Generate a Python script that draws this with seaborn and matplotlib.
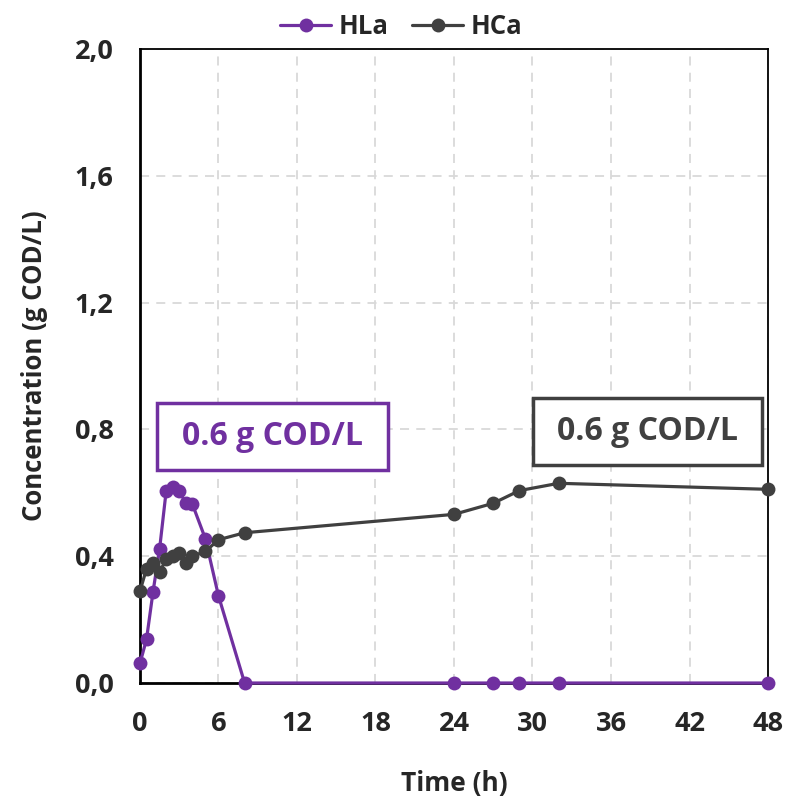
import numpy as np
import pandas as pd
import seaborn as sns
import matplotlib.pyplot as plt
from matplotlib.patches import Rectangle
from matplotlib.ticker import FuncFormatter

# data
time_hla = [0, 0.5, 1, 1.5, 2, 2.5, 3, 3.5, 4, 5, 6, 8, 24, 27, 29, 32, 48]
hla = [0.062, 0.138, 0.288, 0.423, 0.605, 0.618, 0.605, 0.568, 0.565, 0.455, 0.275, 0.0,
       0.0, 0.0, 0.0, 0.0, 0.0]
time_hca = [0, 0.5, 1, 1.5, 2, 2.5, 3, 3.5, 4, 5, 6, 8, 24, 27, 29, 32, 48]
hca = [0.29, 0.36, 0.38, 0.35, 0.39, 0.40, 0.41, 0.38, 0.40, 0.415, 0.452, 0.474,
       0.532, 0.567, 0.607, 0.630, 0.611]
series_names = ['HLa', 'HCa']
colors = {'HLa': '#7030A0', 'HCa': '#404040'}
box_text = '0.6 g COD/L'

df = pd.concat([
    pd.DataFrame({'time': time_hla, 'conc': hla, 'series': 'HLa'}),
    pd.DataFrame({'time': time_hca, 'conc': hca, 'series': 'HCa'}),
])

sns.set_style('white')
plt.rcParams['font.family'] = ['Open Sans', 'DejaVu Sans']
plt.rcParams['font.weight'] = 'bold'

fig = plt.figure(figsize=(7.89, 7.98), dpi=100)
ax = fig.add_axes([0.1774, 0.1441, 0.796, 0.7945])

for name in series_names:
    sns.lineplot(data=df[df.series == name], x='time', y='conc', ax=ax,
                 color=colors[name], marker='o', markersize=10, linewidth=2.3,
                 markeredgewidth=0, label=name, zorder=3, clip_on=False)

ax.set_xlim(0, 48)
ax.set_ylim(0, 2.0)
ax.set_xticks(np.arange(0, 49, 6))
ax.set_yticks(np.arange(0, 2.01, 0.4))
ax.yaxis.set_major_formatter(FuncFormatter(lambda v, p: f'{v:.1f}'.replace('.', ',')))
ax.tick_params(length=0, labelsize=19.5)
ax.tick_params(axis='x', pad=20)
ax.tick_params(axis='y', pad=19)
for lab in ax.get_xticklabels() + ax.get_yticklabels():
    lab.set_fontweight('bold')

ax.grid(True, color='#d9d9d9', linestyle=(0, (5, 4)), linewidth=1.3)
for side in ['top', 'right']:
    ax.spines[side].set_color('black')
    ax.spines[side].set_linewidth(1.3)
for side in ['left', 'bottom']:
    ax.spines[side].set_color('black')
    ax.spines[side].set_linewidth(2)

ax.set_xlabel('Time (h)', fontsize=19, fontweight='bold', labelpad=24)
ax.set_ylabel('Concentration (g COD/L)', fontsize=18.5, fontweight='bold', labelpad=19)

# annotation boxes (axes fraction)
ax.add_patch(Rectangle((0.027, 0.336), 0.368, 0.106, transform=ax.transAxes,
                       fc='white', ec=colors['HLa'], lw=2.5, zorder=4))
ax.text(0.2115, 0.389, box_text, transform=ax.transAxes, fontsize=23, fontweight='bold',
        color=colors['HLa'], ha='center', va='center', zorder=5)
ax.add_patch(Rectangle((0.626, 0.344), 0.364, 0.1055, transform=ax.transAxes,
                       fc='white', ec=colors['HCa'], lw=2.5, zorder=4))
ax.text(0.808, 0.3965, box_text, transform=ax.transAxes, fontsize=23, fontweight='bold',
        color=colors['HCa'], ha='center', va='center', zorder=5)

ax.legend(loc='upper center', bbox_to_anchor=(0.416, 1.093), ncol=2, frameon=False,
          prop={'size': 18.5, 'weight': 'bold'}, handlelength=2.0, columnspacing=0.9,
          handletextpad=0.3)

fig.savefig('out.png', dpi=100)
